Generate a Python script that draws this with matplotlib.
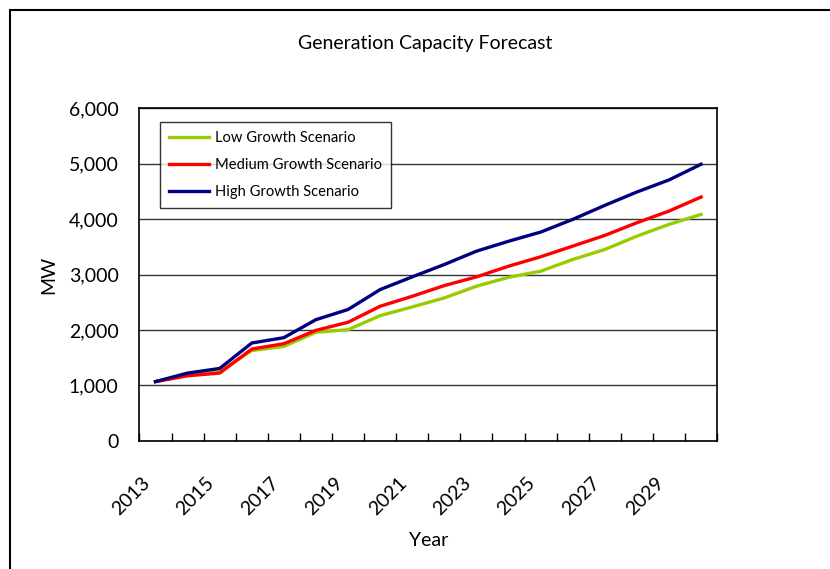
import matplotlib
matplotlib.use("Agg")
import matplotlib.pyplot as plt
from matplotlib.patches import Rectangle
from matplotlib.ticker import FuncFormatter, FixedLocator
from matplotlib.transforms import ScaledTranslation

plt.rcParams['font.family'] = ['Lato', 'DejaVu Sans']

years = list(range(2013, 2031))
low_growth = [1070, 1190, 1250, 1630, 1705, 1960, 2006, 2259, 2416, 2579,
              2789, 2950, 3060, 3271, 3452, 3692, 3904, 4084]
medium_growth = [1070, 1175, 1224, 1657, 1753, 1994, 2140, 2428, 2608, 2801,
                 2958, 3150, 3320, 3512, 3705, 3934, 4144, 4397]
high_growth = [1070, 1224, 1307, 1766, 1862, 2187, 2370, 2729, 2958, 3181,
               3421, 3600, 3765, 3994, 4247, 4488, 4705, 4988]
year_labels = [str(y) for y in years[::2]]

fig = plt.figure(figsize=(8.3, 5.69), dpi=100)
ax = fig.add_axes([0.168, 0.225, 0.696, 0.585])

# chart area border
fig.patches.append(Rectangle((10 / 830, -0.1), 1.1, 1 - 10 / 569 + 0.1,
                             transform=fig.transFigure, fill=False,
                             edgecolor='black', linewidth=1.5))

x = list(range(len(years)))
ax.plot(x, low_growth, color='#99CC00', linewidth=2.4, label='Low Growth Scenario')
ax.plot(x, medium_growth, color='#FF0000', linewidth=2.4, label='Medium Growth Scenario')
ax.plot(x, high_growth, color='#000080', linewidth=2.4, label='High Growth Scenario')

ax.set_xlim(-0.5, len(years) - 0.5)
ax.set_ylim(0, 6000)
ax.set_yticks(range(0, 6001, 1000))
ax.yaxis.set_major_formatter(FuncFormatter(lambda v, p: f'{int(v):,}'))
ax.grid(axis='y', color='#333333', linewidth=1)
ax.set_axisbelow(True)

# tick marks between categories, labels on every other category
ax.xaxis.set_major_locator(FixedLocator([i - 0.5 for i in range(len(years) + 1)]))
ax.xaxis.set_major_formatter(FuncFormatter(lambda v, p: ''))
ax.xaxis.set_minor_locator(FixedLocator(x[::2]))
ax.set_xticklabels(year_labels, minor=True, rotation=45, ha='right',
                   va='top', rotation_mode='anchor', fontsize=14)
ax.tick_params(axis='x', which='major', direction='in', length=6, width=1)
ax.tick_params(axis='x', which='minor', length=0, pad=24)
ax.tick_params(axis='y', direction='in', length=0, labelsize=14, pad=15)
shift = ScaledTranslation(-0.14, 0, fig.dpi_scale_trans)
for lbl in ax.get_xticklabels(minor=True):
    lbl.set_transform(lbl.get_transform() + shift)

for s in ax.spines.values():
    s.set_color('black')
    s.set_linewidth(1.2)

ax.set_xlabel('Year', fontsize=14, labelpad=10)
ax.set_ylabel('MW', fontsize=14, labelpad=8)
fig.text(0.512, 1 - 44 / 569, 'Generation Capacity Forecast', ha='center',
         va='center', fontsize=14)

leg = ax.legend(loc='upper left', bbox_to_anchor=(0.036, 0.958), fontsize=10.6,
                frameon=True, fancybox=False, handlelength=2.7,
                handletextpad=0.45, labelspacing=0.9, borderpad=0.6,
                borderaxespad=0)
leg.get_frame().set_edgecolor('black')
leg.get_frame().set_linewidth(1)

fig.savefig('out.png', dpi=100)
